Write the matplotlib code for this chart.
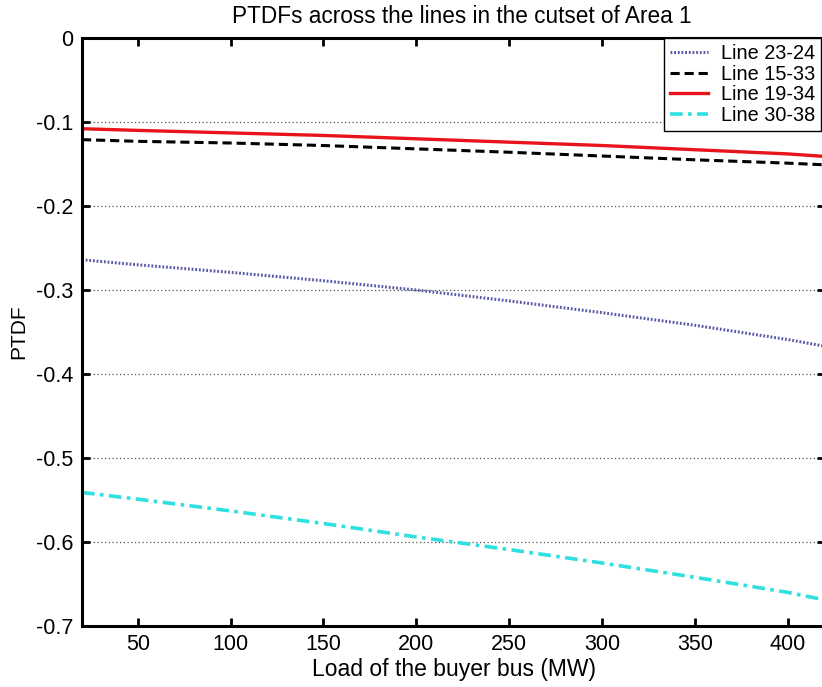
import numpy as np
import matplotlib
matplotlib.use('Agg')
import matplotlib.pyplot as plt

plt.rcParams['font.family'] = ['Liberation Sans', 'DejaVu Sans']

# Load of the buyer bus (MW)
load_mw = [20, 50, 100, 150, 200, 250, 300, 350, 400, 420]

# PTDF values
ptdf_23_24 = [-0.264, -0.270, -0.279, -0.289, -0.300, -0.313, -0.327, -0.342, -0.359, -0.367]
ptdf_15_33 = [-0.121, -0.123, -0.125, -0.128, -0.132, -0.136, -0.1405, -0.145, -0.149, -0.151]
ptdf_19_34 = [-0.108, -0.110, -0.113, -0.116, -0.120, -0.124, -0.128, -0.133, -0.138, -0.141]
ptdf_30_38 = [-0.541, -0.549, -0.563, -0.578, -0.594, -0.609, -0.625, -0.642, -0.660, -0.669]

line_names = ['Line 23-24', 'Line 15-33', 'Line 19-34', 'Line 30-38']
x_ticks = [50, 100, 150, 200, 250, 300, 350, 400]
y_ticks = [0, -0.1, -0.2, -0.3, -0.4, -0.5, -0.6, -0.7]
y_tick_labels = ['0', '-0.1', '-0.2', '-0.3', '-0.4', '-0.5', '-0.6', '-0.7']

fig = plt.figure(figsize=(8.22, 6.87), dpi=100)
ax = fig.add_axes([82/822, 1 - 626/687, (825 - 82)/822, (626 - 38)/687])

ax.plot(load_mw, ptdf_23_24, color='#5a5aa8', linestyle=(0, (0.6, 0.6)), linewidth=2.2, label=line_names[0])
ax.plot(load_mw, ptdf_15_33, color='black', linestyle=(0, (3, 1.6)), linewidth=2.2, label=line_names[1])
ax.plot(load_mw, ptdf_19_34, color='#e8141c', linestyle='-', linewidth=2.4, label=line_names[2])
ax.plot(load_mw, ptdf_30_38, color='#2ee0e0', linestyle=(0, (3.5, 1.5, 1, 1.5)), linewidth=2.6, label=line_names[3])

ax.set_xlim(20, 420)
ax.set_ylim(-0.7, 0)
ax.set_xticks(x_ticks)
ax.set_yticks(y_ticks)
ax.set_yticklabels(y_tick_labels)
ax.yaxis.grid(True, linestyle=(0, (1, 2)), color='#555555', linewidth=0.9)
ax.xaxis.grid(False)

for s in ax.spines.values():
    s.set_linewidth(2.2)
ax.tick_params(direction='in', length=6, width=2, labelsize=15.5, top=True, right=True, pad=6)

ax.set_title('PTDFs across the lines in the cutset of Area 1', fontsize=16.3, pad=11,
             x=(462 - 82)/743)
ax.set_xlabel('Load of the buyer bus (MW)', fontsize=16.5, labelpad=2)
ax.set_ylabel('PTDF', fontsize=15, labelpad=6)

leg = ax.legend(loc='upper right', bbox_to_anchor=(821/822, 1 - 38/687), bbox_transform=fig.transFigure,
                fontsize=14.3, frameon=True, fancybox=False, framealpha=1,
                borderaxespad=0.0, handlelength=1.9, handletextpad=0.65,
                labelspacing=0.08, borderpad=0.3)
leg.get_frame().set_edgecolor('black')
leg.get_frame().set_linewidth(1.0)

fig.savefig('out.png', dpi=100)
